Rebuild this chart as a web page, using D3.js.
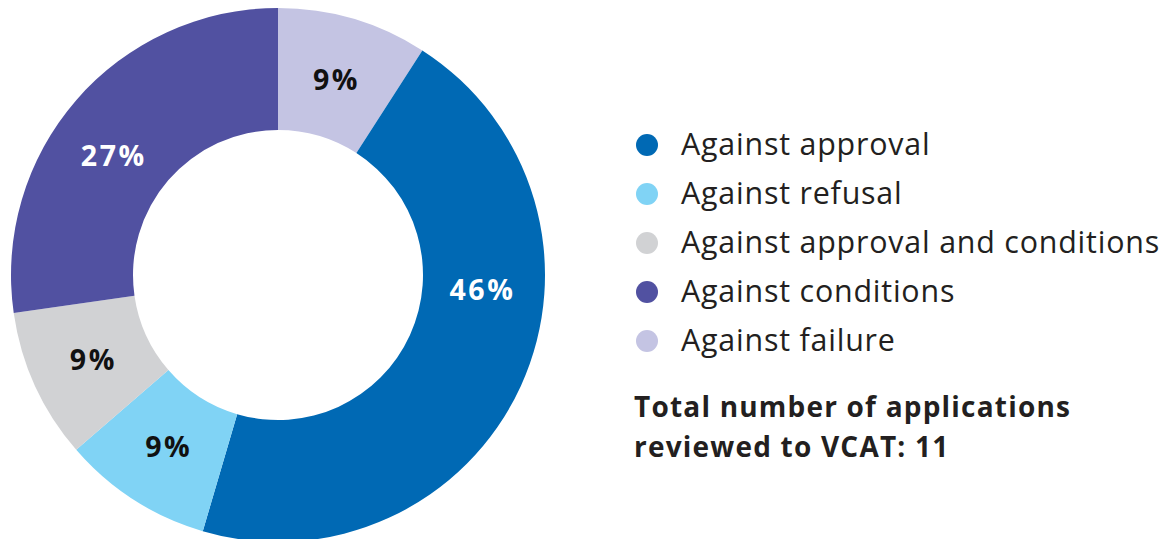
<!DOCTYPE html>
<html>
<head>
<meta charset="utf-8">
<script src="https://cdn.jsdelivr.net/npm/d3@7"></script>
<style>
  body { margin: 0; background: #fff; }
  svg { display: block; }
  text { font-family: "Open Sans", Lato, sans-serif; }
</style>
</head>
<body>
<div id="chart-area"></div>
<script>

// Data (counts out of 11, clockwise from 12 o'clock)
let categories = ["Against failure", "Against approval", "Against refusal", "Against approval and conditions", "Against conditions"];
let counts = [1, 5, 1, 1, 3];
let pctLabels = ["9%", "46%", "9%", "9%", "27%"];

// legend order
let legendOrder = ["Against approval", "Against refusal", "Against approval and conditions", "Against conditions", "Against failure"];
let totalText = ["Total number of applications", "reviewed to VCAT: 11"];

let colors = {
  "Against approval": "#0069b4",
  "Against refusal": "#80d3f5",
  "Against approval and conditions": "#d1d2d4",
  "Against conditions": "#5151a1",
  "Against failure": "#c4c4e3"
};
let labelColors = {
  "Against approval": "#fff",
  "Against conditions": "#fff"
};
// label angle nudges (degrees from centroid)
let labelNudge = {
  "Against approval": -20.5,
  "Against conditions": -5
};

let width = 1170, height = 539;

let svg = d3.select("#chart-area").append("svg")
    .attr("width", width)
    .attr("height", height);

// Donut
let cx = 278, cy = 275, outerR = 267, innerR = 145;

let data = categories.map((c, i) => ({name: c, value: counts[i], label: pctLabels[i]}));

let pie = d3.pie()
    .sort(null)
    .value(d => d.value);

let arc = d3.arc()
    .innerRadius(innerR)
    .outerRadius(outerR);

let g = svg.append("g")
    .attr("transform", "translate(" + cx + "," + cy + ")");

let arcs = pie(data);

g.selectAll(".slice")
  .data(arcs)
  .enter().append("path")
    .attr("class", "slice")
    .attr("d", arc)
    .attr("fill", d => colors[d.data.name]);

// labels sit on mid ring
let labelR = (innerR + outerR) / 2 - 2;
g.selectAll(".pct")
  .data(arcs)
  .enter().append("text")
    .attr("class", "pct")
    .attr("transform", function(d) {
      let a = (d.startAngle + d.endAngle) / 2 + (labelNudge[d.data.name] || 0) * Math.PI / 180;
      return "translate(" + (Math.sin(a) * labelR + 1) + "," + (-Math.cos(a) * labelR) + ")";
    })
    .attr("text-anchor", "middle")
    .attr("dy", "0.36em")
    .attr("font-size", 28.5)
    .attr("font-weight", 700)
    .attr("letter-spacing", 2.6)
    .attr("fill", d => labelColors[d.data.name] || "#111")
    .text(d => d.data.label);

// Legend
let legend = svg.append("g")
    .attr("transform", "translate(647,145)");

let rows = legend.selectAll(".row")
  .data(legendOrder)
  .enter().append("g")
    .attr("class", "row")
    .attr("transform", (d, i) => "translate(0," + (i * 49) + ")");

rows.append("circle")
    .attr("r", 11)
    .attr("fill", d => colors[d]);

rows.append("text")
    .attr("x", 34)
    .attr("dy", "0.33em")
    .attr("font-size", 30.4)
    .attr("letter-spacing", 0.8)
    .attr("fill", "#231f20")
    .text(d => d);

// Total
svg.append("g")
    .attr("transform", "translate(634,0)")
  .selectAll("text")
  .data(totalText)
  .enter().append("text")
    .attr("y", (d, i) => 417 + i * 39.5)
    .attr("font-size", 28)
    .attr("font-weight", 700)
    .attr("letter-spacing", 1.2)
    .attr("fill", "#231f20")
    .text(d => d);

</script>
</body>
</html>
